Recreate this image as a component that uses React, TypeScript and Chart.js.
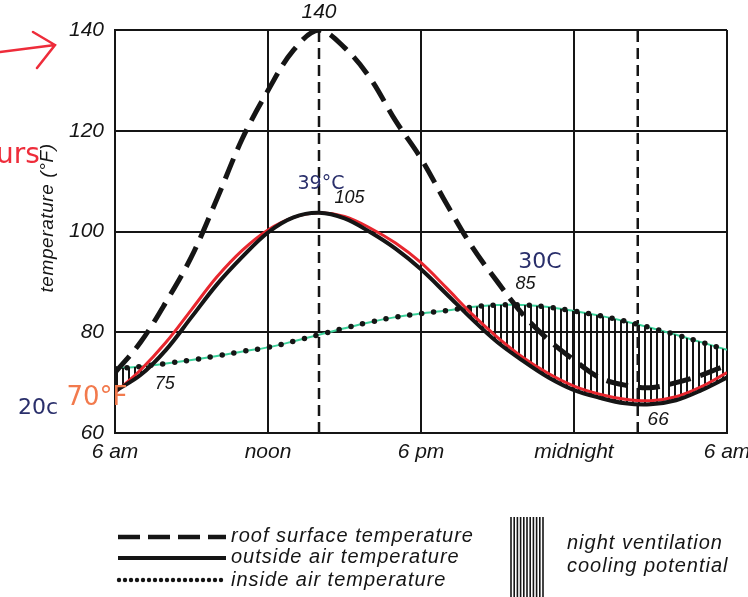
import React, { useEffect, useRef } from 'react';
import { Chart, registerables } from 'chart.js';

Chart.register(...registerables);

// hours after 6 am
const hours = [0, 1, 2, 3, 4, 5, 6, 7, 8, 9, 10, 11, 12, 13, 14, 15, 16, 17, 18, 19, 20, 21, 22, 23, 24];
const xTickLabels = ['6 am', 'noon', '6 pm', 'midnight', '6 am'];
const yTickValues = [60, 80, 100, 120, 140];

const roofSurface = [72, 78, 86, 95, 106.5, 118.5, 128, 136, 140, 136.5, 130.5, 122, 114.5, 105.5, 97, 90, 83.5, 78.5, 74.5, 71, 69.5, 69, 70, 71.5, 73.5];
const outsideAir = [68.3, 71.5, 76.5, 83, 89.5, 95, 99.8, 102.8, 103.7, 102.6, 99.9, 96.6, 92.5, 87.6, 82.6, 78, 74.3, 71, 68.5, 67, 65.9, 65.7, 66.5, 68.5, 71];
const outsideAirRed = [68, 72.5, 78, 84.5, 91, 96.3, 100.3, 102.8, 103.7, 103, 100.7, 97.7, 93.8, 88.8, 83.6, 79, 75, 71.8, 69.3, 67.7, 66.7, 66.4, 67.2, 69.2, 72];
const insideAir = [72.8, 73.2, 73.8, 74.5, 75.3, 76.2, 77, 78.2, 79.5, 80.8, 82, 83, 83.7, 84.3, 85, 85.4, 85.4, 85, 84.2, 83.3, 82.2, 80.9, 79.5, 78, 76.5];
const markerHours = [8, 20.5];

const legendLabels = ['roof surface temperature', 'outside air temperature', 'inside air temperature'];
const hatchLabels = ['night ventilation', 'cooling potential'];
const yTitle = 'temperature (°F)';
const valueLabels = ['140', '105', '85', '75', '66'];
const noteLabels = ['39°C', '30C', '20c', '70°F', 'urs'];

const FONT = '"Liberation Sans", "DejaVu Sans", sans-serif';
const INK = '#151515';

const pts = (vals: number[]) => hours.map((h, i) => ({ x: h, y: vals[i] }));

export default function App() {
  const ref = useRef<HTMLCanvasElement | null>(null);

  useEffect(() => {
    const canvas = ref.current;
    if (!canvas) return;

    const pc = document.createElement('canvas');
    pc.width = 6;
    pc.height = 6;
    const pctx = pc.getContext('2d')!;
    pctx.fillStyle = INK;
    pctx.fillRect(2, 0, 2, 6);
    const hatch = pctx.createPattern(pc, 'repeat');

    const overlay = {
      id: 'overlay',
      afterDraw(chart: any) {
        const { ctx } = chart;
        const x = chart.scales.x;
        const y = chart.scales.y;
        ctx.save();
        ctx.fillStyle = INK;
        ctx.textAlign = 'center';
        ctx.textBaseline = 'middle';

        // y title
        ctx.save();
        ctx.translate(48, 218);
        ctx.rotate(-Math.PI / 2);
        ctx.font = 'italic 19px ' + FONT;
        (ctx as any).letterSpacing = '0.6px';
        ctx.fillText(yTitle, 0, 0);
        ctx.restore();

        // value labels
        ctx.font = 'italic 21px ' + FONT;
        ctx.fillText(valueLabels[0], x.getPixelForValue(8), y.getPixelForValue(140) - 18);
        ctx.font = 'italic 18px ' + FONT;
        ctx.fillText(valueLabels[1], x.getPixelForValue(9.2), y.getPixelForValue(104) - 13);
        ctx.fillText(valueLabels[2], x.getPixelForValue(16.1), y.getPixelForValue(89.5));
        ctx.fillText(valueLabels[3], x.getPixelForValue(1.95), y.getPixelForValue(69.7));
        ctx.font = 'italic 19px ' + FONT;
        ctx.fillText(valueLabels[4], x.getPixelForValue(21.3), y.getPixelForValue(62.7));

        // handwritten notes
        ctx.font = '19px "DejaVu Sans", sans-serif';
        ctx.fillStyle = '#2a2f6b';
        ctx.fillText(noteLabels[0], 321, 184);
        ctx.font = '22px "DejaVu Sans", sans-serif';
        ctx.fillText(noteLabels[1], 540, 262);
        ctx.font = '22px "DejaVu Sans", sans-serif';
        ctx.fillText(noteLabels[2], 38, 408);
        ctx.font = '26px "DejaVu Sans", sans-serif';
        ctx.fillStyle = '#f27a4d';
        ctx.fillText(noteLabels[3], 97, 398);
        ctx.textAlign = 'left';
        ctx.font = '28px "DejaVu Sans", sans-serif';
        ctx.fillStyle = '#ee2c3a';
        ctx.fillText(noteLabels[4], -4, 156);

        // red arrow
        ctx.strokeStyle = '#ee2c3a';
        ctx.lineWidth = 2.5;
        ctx.lineCap = 'round';
        ctx.beginPath();
        ctx.moveTo(0, 52);
        ctx.lineTo(55, 45);
        ctx.moveTo(33, 32);
        ctx.lineTo(55, 45);
        ctx.lineTo(37, 68);
        ctx.stroke();

        // legend
        ctx.strokeStyle = INK;
        ctx.lineCap = 'butt';
        ctx.lineWidth = 4.5;
        ctx.setLineDash([22, 8]);
        ctx.beginPath();
        ctx.moveTo(118, 537);
        ctx.lineTo(226, 537);
        ctx.stroke();
        ctx.setLineDash([]);
        ctx.lineWidth = 4;
        ctx.beginPath();
        ctx.moveTo(118, 558);
        ctx.lineTo(226, 558);
        ctx.stroke();
        ctx.fillStyle = INK;
        for (let px = 119; px <= 225; px += 6) {
          ctx.beginPath();
          ctx.arc(px, 580, 2.2, 0, Math.PI * 2);
          ctx.fill();
        }
        ctx.font = 'italic 20px ' + FONT;
        (ctx as any).letterSpacing = '1px';
        ctx.textAlign = 'left';
        ctx.fillText(legendLabels[0], 231, 536);
        ctx.fillText(legendLabels[1], 231, 557);
        ctx.fillText(legendLabels[2], 231, 580);

        ctx.lineWidth = 1.6;
        for (let px = 511; px <= 545; px += 3.2) {
          ctx.beginPath();
          ctx.moveTo(px, 517);
          ctx.lineTo(px, 597);
          ctx.stroke();
        }
        ctx.fillText(hatchLabels[0], 567, 543);
        ctx.fillText(hatchLabels[1], 567, 566);
        ctx.restore();
      },
    };

    const markerSets = markerHours.map((h) => ({
      data: [{ x: h, y: 60 }, { x: h, y: 140 }],
      borderColor: INK,
      borderWidth: 2.5,
      borderDash: [11, 6],
      pointRadius: 0,
      tension: 0,
      fill: false,
      order: 7,
    }));

    const chart = new Chart(canvas, {
      type: 'line',
      data: {
        datasets: [
          {
            label: 'roof',
            data: pts(roofSurface),
            borderColor: INK,
            borderWidth: 5,
            borderDash: [22, 10],
            pointRadius: 0,
            tension: 0.35,
            fill: false,
            order: 1,
          },
          {
            label: 'outside',
            data: pts(outsideAir),
            borderColor: INK,
            borderWidth: 4,
            pointRadius: 0,
            tension: 0.35,
            fill: false,
            order: 2,
          },
          {
            label: 'outsideRed',
            data: pts(outsideAirRed),
            borderColor: '#e8262e',
            borderWidth: 3,
            pointRadius: 0,
            tension: 0.35,
            fill: false,
            order: 3,
          },
          {
            label: 'inside',
            data: pts(insideAir),
            borderColor: INK,
            borderWidth: 5.5,
            borderDash: [0, 12],
            borderCapStyle: 'round',
            pointRadius: 0,
            tension: 0.35,
            fill: { target: 1, above: hatch, below: 'rgba(0,0,0,0)' },
            order: 4,
          },
          {
            label: 'insideGreen',
            data: pts(insideAir),
            borderColor: '#3cd39b',
            borderWidth: 2,
            pointRadius: 0,
            tension: 0.35,
            fill: false,
            order: 5,
          },
          ...markerSets,
        ] as any,
      },
      options: {
        animation: false,
        responsive: false,
        devicePixelRatio: 1,
        layout: { autoPadding: false, padding: { left: 0, right: 21, top: 30, bottom: 130 } },
        plugins: { legend: { display: false }, tooltip: { enabled: false } },
        scales: {
          x: {
            type: 'linear',
            min: 0,
            max: 24,
            afterFit: (s: any) => { s.height = 34; s.paddingLeft = 0; s.paddingRight = 0; },
            afterBuildTicks: (s: any) => { s.ticks = [0, 6, 12, 18, 24].map((v) => ({ value: v })); },
            ticks: {
              padding: 7,
              maxRotation: 0,
              color: INK,
              font: { family: FONT, size: 21, style: 'italic' },
              callback: (v: any) => xTickLabels[Math.round(Number(v) / 6)],
            },
            grid: { color: INK, lineWidth: 2, drawTicks: false },
            border: { color: INK, width: 2 },
          },
          y: {
            type: 'linear',
            min: 60,
            max: 140,
            afterFit: (s: any) => { s.width = 115; s.paddingTop = 0; s.paddingBottom = 0; },
            afterBuildTicks: (s: any) => { s.ticks = yTickValues.map((v) => ({ value: v })); },
            ticks: {
              padding: 11,
              color: INK,
              font: { family: FONT, size: 21, style: 'italic' },
            },
            grid: { color: INK, lineWidth: 2, drawTicks: false },
            border: { color: INK, width: 2 },
          },
        },
      } as any,
      plugins: [overlay],
    });

    return () => chart.destroy();
  }, []);

  return (
    <div style={{ position: 'fixed', left: 0, top: 0, width: 748, height: 597, background: '#fff' }}>
      <canvas ref={ref} width={748} height={597} style={{ display: 'block' }} />
    </div>
  );
}
